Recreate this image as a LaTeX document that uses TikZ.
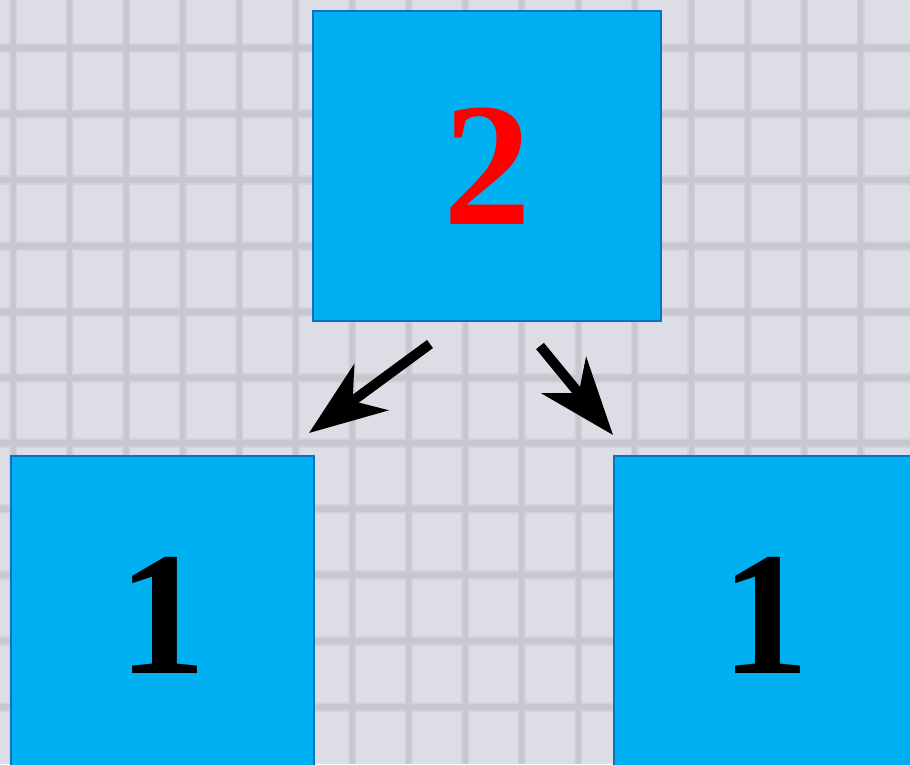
\documentclass[tikz,border=0pt]{standalone}
\usepackage{fontspec}
\setmainfont{Liberation Serif}
\usetikzlibrary{arrows.meta}
\definecolor{paperbg}{RGB}{221,221,229}
\definecolor{gridcore}{RGB}{199,199,207}
\definecolor{gridhalo}{RGB}{210,210,218}
\definecolor{boxfill}{RGB}{0,176,240}
\definecolor{boxline}{RGB}{10,114,194}
\definecolor{digitred}{RGB}{255,0,0}
\tikzset{
  cellbox/.style={draw=boxline, line width=2.5pt, fill=boxfill, inner sep=0pt,
    font=\fontsize{176}{176}\selectfont\bfseries},
  hline/.style={gridcore, line width=6pt},
  vline/.style={gridcore, line width=5pt},
  hhalo/.style={gridhalo, line width=10pt},
  vhalo/.style={gridhalo, line width=8pt},
  splitarrow/.style={line width=10pt, -{Stealth[length=77pt,width=57pt,inset=23pt]}}
}
\begin{document}
\begin{tikzpicture}[x=1pt,y=-1pt]
\useasboundingbox (0,0) rectangle (910,764);
\begin{scope}
\clip (0,0) rectangle (910,764);
\fill[paperbg] (0,0) rectangle (910,764);
\foreach \k in {0,...,11} {
  \draw[hhalo] (0,{48+65.9*\k}) -- (910,{48+65.9*\k});
}
\foreach \k in {0,...,15} {
  \draw[vhalo] ({13+56.5*\k},0) -- ({13+56.5*\k},764);
}
\foreach \k in {0,...,11} {
  \draw[hline] (0,{48+65.9*\k}) -- (910,{48+65.9*\k});
}
\foreach \k in {0,...,15} {
  \draw[vline] ({13+56.5*\k},0) -- ({13+56.5*\k},764);
}
\node[cellbox, minimum width=348pt, minimum height=310pt, text=digitred] (top) at (487,166) {2};
\node[cellbox, minimum width=303pt, minimum height=318pt] (left) at (162.5,615) {1};
\node[cellbox, minimum width=303pt, minimum height=318pt] (right) at (765.5,615) {1};
\coordinate (ls) at (430,344);
\coordinate (le) at (309,433);
\coordinate (rs) at (540,346);
\coordinate (re) at (613,435);
\draw[splitarrow] (ls) -- (le);
\draw[splitarrow] (rs) -- (re);
\end{scope}
\end{tikzpicture}
\end{document}
